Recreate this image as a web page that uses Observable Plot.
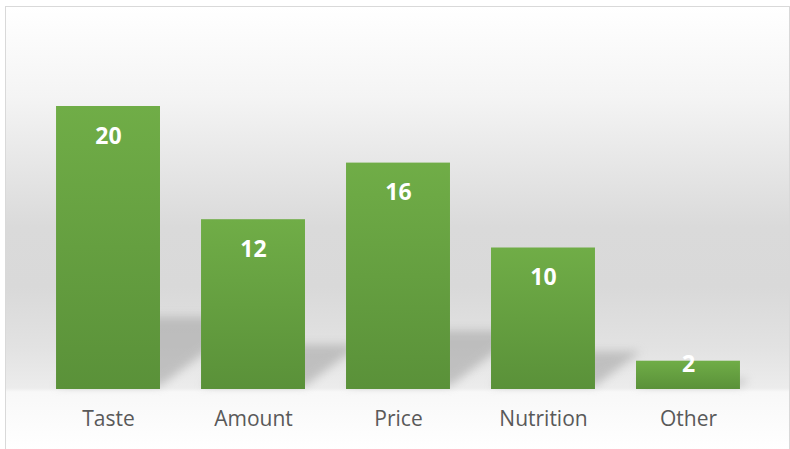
<!DOCTYPE html>
<html><head><meta charset="utf-8">
<script src="https://cdn.jsdelivr.net/npm/d3@7"></script>
<script src="https://cdn.jsdelivr.net/npm/@observablehq/plot@0.6"></script>
<style>
body{margin:0;background:#fff;overflow:hidden;}
#frame{position:absolute;left:5px;top:6px;width:783px;height:450px;border:1px solid #d9d9d9;
background:linear-gradient(to bottom,#ffffff 0px,#f4f4f4 90px,#dadada 220px,#d9d9d9 280px,#e2e2e2 340px,#ececec 381px,#f8f8f8 385px,#ffffff 443px);}
#chart{position:absolute;left:0;top:0;}
</style></head><body><div id="frame"></div><div id="chart"></div>
<script>
const categories = ["Taste","Amount","Price","Nutrition","Other"];
const values = [20,12,16,10,2];
const data = categories.map((c,i)=>({category:c, value:values[i]}));

const plot = Plot.plot({
  width:790, height:449,
  marginLeft:15, marginRight:9, marginTop:106, marginBottom:60,
  style:{background:"transparent", fontFamily:"'Open Sans', sans-serif", overflow:"visible"},
  x:{domain:categories, padding:0.283, round:false, label:null},
  y:{domain:[0,20], axis:null},
  marks:[
    Plot.barY(data,{x:"category", y1:0, y2:d=>d.value*0.245, dy:-3, fill:"#a8a8a8"}),
    Plot.barY(data,{x:"category", y:"value", fill:"url(#barGrad)"}),
    Plot.text(data.filter(d=>d.value>=5),{x:"category", y:"value", text:d=>String(d.value), dy:30, fill:"white", fontSize:23, fontWeight:"bold"}),
    Plot.text(data.filter(d=>d.value<5),{x:"category", y:"value", text:d=>String(d.value), dy:3, fill:"white", fontSize:23, fontWeight:"bold"}),
    Plot.axisX({tickSize:0, tickPadding:22, fontSize:21, color:"#595959"})
  ]
});

const svg = d3.select(plot);
const defs = svg.insert("defs",":first-child");
const g = defs.append("linearGradient").attr("id","barGrad").attr("x1",0).attr("y1",0).attr("x2",0).attr("y2",1);
g.append("stop").attr("offset","0%").attr("stop-color","#70ad47");
g.append("stop").attr("offset","100%").attr("stop-color","#5a9139");
const bars = svg.selectAll("g[aria-label='bar']").nodes();
if (bars.length) {
  bars[0].style.filter = "blur(5px)";
  bars[0].style.opacity = "0.62";
  d3.select(bars[0]).selectAll("rect").each(function(){
    this.style.transformBox = "fill-box";
    this.style.transformOrigin = "0% 100%";
    this.style.transform = "skewX(-53deg)";
  });
}
document.getElementById("chart").appendChild(plot);
</script>
</body></html>
